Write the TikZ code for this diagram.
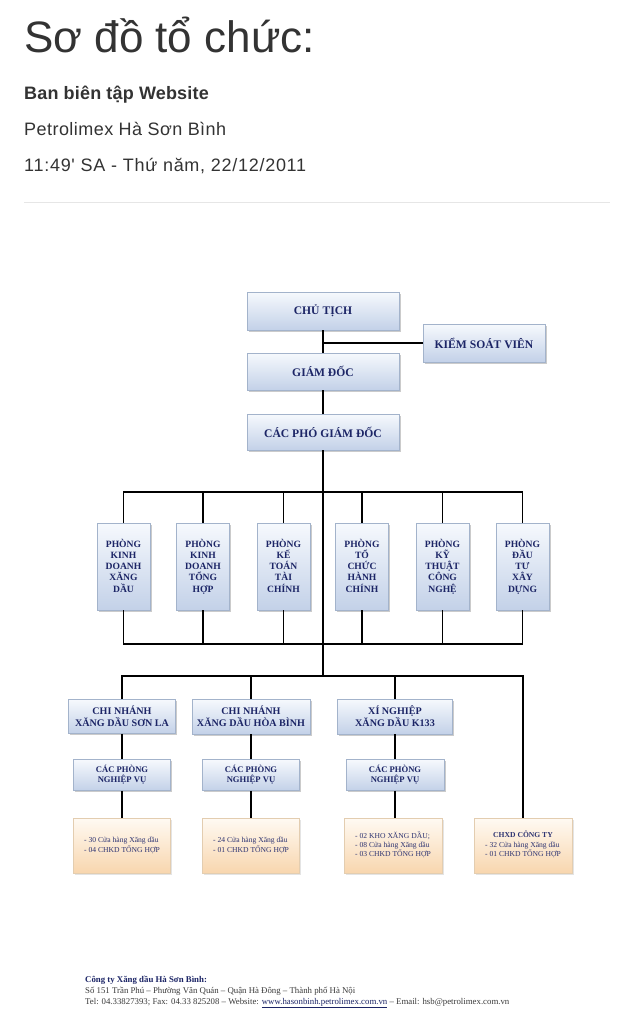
\documentclass[tikz,border=0pt]{standalone}
\usepackage{fontspec}
\setmainfont{Liberation Serif}
\newfontfamily\hdr{Liberation Sans}
\newfontfamily\tnr{Liberation Serif}
\usetikzlibrary{shadows}
\definecolor{navy}{HTML}{1C2566}
\definecolor{hdrgray}{HTML}{333333}
\definecolor{sepgray}{HTML}{E6E6E6}
\definecolor{btop}{HTML}{F6F9FD}
\definecolor{bbot}{HTML}{C3D1E8}
\definecolor{bborder}{HTML}{A3B3CB}
\definecolor{ptop}{HTML}{FFFAF3}
\definecolor{pbot}{HTML}{F8D6AE}
\definecolor{pborder}{HTML}{E3CDB0}
\definecolor{etext}{HTML}{2E3472}
\definecolor{foottext}{HTML}{3A3A3A}
\newcommand{\lastline}[1]{#1\vphantom{Ự}}
\tikzset{
  bluebox/.style={draw=bborder, line width=0.8pt, top color=btop, bottom color=bbot,
    drop shadow={shadow xshift=1.5pt, shadow yshift=-1.5pt, fill=black!45, opacity=0.45},
    text=navy, align=center, inner sep=0pt},
  peachbox/.style={draw=pborder, line width=0.8pt, top color=ptop, bottom color=pbot,
    drop shadow={shadow xshift=1.5pt, shadow yshift=-1.5pt, fill=black!30, opacity=0.35},
    text=etext, inner sep=0pt, minimum width=97pt, minimum height=55pt},
  topfont/.style={font=\tnr\bfseries\fontsize{11.6}{13}\selectfont},
  deptfont/.style={font=\tnr\bfseries\fontsize{9.6}{11.3}\selectfont},
  brfont/.style={font=\tnr\bfseries\fontsize{10.1}{11.7}\selectfont},
  pvfont/.style={font=\tnr\bfseries\fontsize{8.6}{10.2}\selectfont},
  efont/.style={font=\tnr\fontsize{7.6}{9.3}\selectfont},
  dept/.style={bluebox, deptfont, minimum width=53pt, minimum height=87pt},
  conn/.style={line width=1.8pt, black},
  hdrtext/.style={anchor=base west, inner sep=0pt, text=hdrgray},
  foot/.style={anchor=base west, inner sep=0pt, font=\tnr\fontsize{8.8}{10}\selectfont, text=foottext}
}
\begin{document}
\begin{tikzpicture}[x=1pt,y=-1pt]
\useasboundingbox[fill=white] (0,0) rectangle (633,1024);

% header
\node[hdrtext, font=\hdr\fontsize{44}{48}\selectfont] (title) at (24,53) {Sơ đồ tổ chức:};
\node[hdrtext, font=\hdr\bfseries\fontsize{18}{20}\selectfont\addfontfeature{LetterSpace=1}] (author) at (24,100) {Ban biên tập Website};
\node[hdrtext, font=\hdr\fontsize{18}{20}\selectfont\addfontfeature{LetterSpace=2.5}] (org) at (24,135.5) {Petrolimex Hà Sơn Bình};
\node[hdrtext, font=\hdr\fontsize{18}{20}\selectfont\addfontfeature{LetterSpace=4}] (date) at (24,171.5) {11:49' SA - Thứ năm, 22/12/2011};
\coordinate (sepL) at (24,203);
\coordinate (sepR) at (610,203);
\draw[sepgray, line width=1pt] (sepL) -- (sepR);

% top level
\node[bluebox, topfont, minimum width=152pt, minimum height=38pt] (chu) at (323,311) {CHỦ TỊCH};
\node[bluebox, topfont, minimum width=122pt, minimum height=38pt] (ksv) at (484,343) {KIỂM SOÁT VIÊN};
\node[bluebox, topfont, minimum width=152pt, minimum height=37pt] (gd) at (323,371.5) {GIÁM ĐỐC};
\node[bluebox, topfont, minimum width=152pt, minimum height=36pt] (pgd) at (323,432) {CÁC PHÓ GIÁM ĐỐC};

% departments
\node[dept] (d1) at (123.5,566.5) {PHÒNG\\KINH\\DOANH\\XĂNG\\\lastline{DẦU}};
\node[dept] (d2) at (203,566.5) {PHÒNG\\KINH\\DOANH\\TỔNG\\\lastline{HỢP}};
\node[dept] (d3) at (283.5,566.5) {PHÒNG\\KẾ\\TOÁN\\TÀI\\\lastline{CHÍNH}};
\node[dept] (d4) at (362,566.5) {PHÒNG\\TỔ\\CHỨC\\HÀNH\\\lastline{CHÍNH}};
\node[dept] (d5) at (442.5,566.5) {PHÒNG\\KỸ\\THUẬT\\CÔNG\\\lastline{NGHỆ}};
\node[dept] (d6) at (522.5,566.5) {PHÒNG\\ĐẦU\\TƯ\\XÂY\\\lastline{DỰNG}};

% branches
\node[bluebox, brfont, minimum width=107pt, minimum height=34pt] (c1) at (122,716.5) {CHI NHÁNH\\XĂNG DẦU SƠN LA};
\node[bluebox, brfont, minimum width=118pt, minimum height=35pt] (c2) at (251,716.5) {CHI NHÁNH\\XĂNG DẦU HÒA BÌNH};
\node[bluebox, brfont, minimum width=115pt, minimum height=35pt] (c3) at (395,716.5) {XÍ NGHIỆP\\XĂNG DẦU K133};

\node[bluebox, pvfont, minimum width=97pt, minimum height=31pt] (p1) at (122,775) {CÁC PHÒNG\\NGHIỆP VỤ};
\node[bluebox, pvfont, minimum width=97pt, minimum height=31pt] (p2) at (251,775) {CÁC PHÒNG\\NGHIỆP VỤ};
\node[bluebox, pvfont, minimum width=98pt, minimum height=31pt] (p3) at (395,775) {CÁC PHÒNG\\NGHIỆP VỤ};

\node[peachbox, efont] (e1) at (122,845.5) {\begin{tabular}{@{}l@{}}- 30 Cửa hàng Xăng dầu\\- 04 CHKD TỔNG HỢP\end{tabular}};
\node[peachbox, efont] (e2) at (251,845.5) {\begin{tabular}{@{}l@{}}- 24 Cửa hàng Xăng dầu\\- 01 CHKD TỔNG HỢP\end{tabular}};
\node[peachbox, efont, minimum width=98pt] (e3) at (393,845.5) {\begin{tabular}{@{}l@{}}- 02 KHO XĂNG DẦU;\\- 08 Cửa hàng Xăng dầu\\- 03 CHKD TỔNG HỢP\end{tabular}};
\node[peachbox, efont, minimum width=98pt] (e4) at (523,845.5) {\begin{tabular}{@{}l@{}}\multicolumn{1}{@{}c@{}}{\bfseries CHXD CÔNG TY}\\- 32 Cửa hàng Xăng dầu\\- 01 CHKD TỔNG HỢP\end{tabular}};

% connectors
\coordinate (b1) at (323,492);
\coordinate (b2) at (323,644);
\coordinate (b3) at (323,676);
\draw[conn] (chu.south) -- (gd.north);
\draw[conn] (ksv.west) -- (ksv.west -| chu.south);
\draw[conn] (gd.south) -- (pgd.north);
\draw[conn] (pgd.south) -- (b3);
\draw[conn] (d1.north) |- (b1) -| (d6.north);
\draw[conn] (d2.north) -- (d2.north |- b1);
\draw[conn] (d3.north) -- (d3.north |- b1);
\draw[conn] (d4.north) -- (d4.north |- b1);
\draw[conn] (d5.north) -- (d5.north |- b1);
\draw[conn] (d1.south) |- (b2) -| (d6.south);
\draw[conn] (d2.south) -- (d2.south |- b2);
\draw[conn] (d3.south) -- (d3.south |- b2);
\draw[conn] (d4.south) -- (d4.south |- b2);
\draw[conn] (d5.south) -- (d5.south |- b2);
\draw[conn] (c1.north) |- (b3) -| (e4.north);
\draw[conn] (c2.north) -- (c2.north |- b3);
\draw[conn] (c3.north) -- (c3.north |- b3);
\draw[conn] (c1.south) -- (p1.north);
\draw[conn] (c2.south) -- (p2.north);
\draw[conn] (c3.south) -- (p3.north);
\draw[conn] (p1.south) -- (e1.north);
\draw[conn] (p2.south) -- (e2.north);
\draw[conn] (p3.south) -- (p3.south |- e3.north);

% footer
\node[foot, text=navy, font=\tnr\bfseries\fontsize{8.8}{10}\selectfont] (f1) at (85,982.5) {Công ty Xăng dầu Hà Sơn Bình:};
\node[foot] (f2) at (85,993.2) {Số 151 Trần Phú – Phường Văn Quán – Quận Hà Đông – Thành phố Hà Nội};
\node[foot] (f3) at (85,1004) {Tel: 04.33827393; Fax: 04.33 825208 – Website: {\color{navy}\underline{www.hasonbinh.petrolimex.com.vn}} – Email: hsb@petrolimex.com.vn};
\end{tikzpicture}
\end{document}
